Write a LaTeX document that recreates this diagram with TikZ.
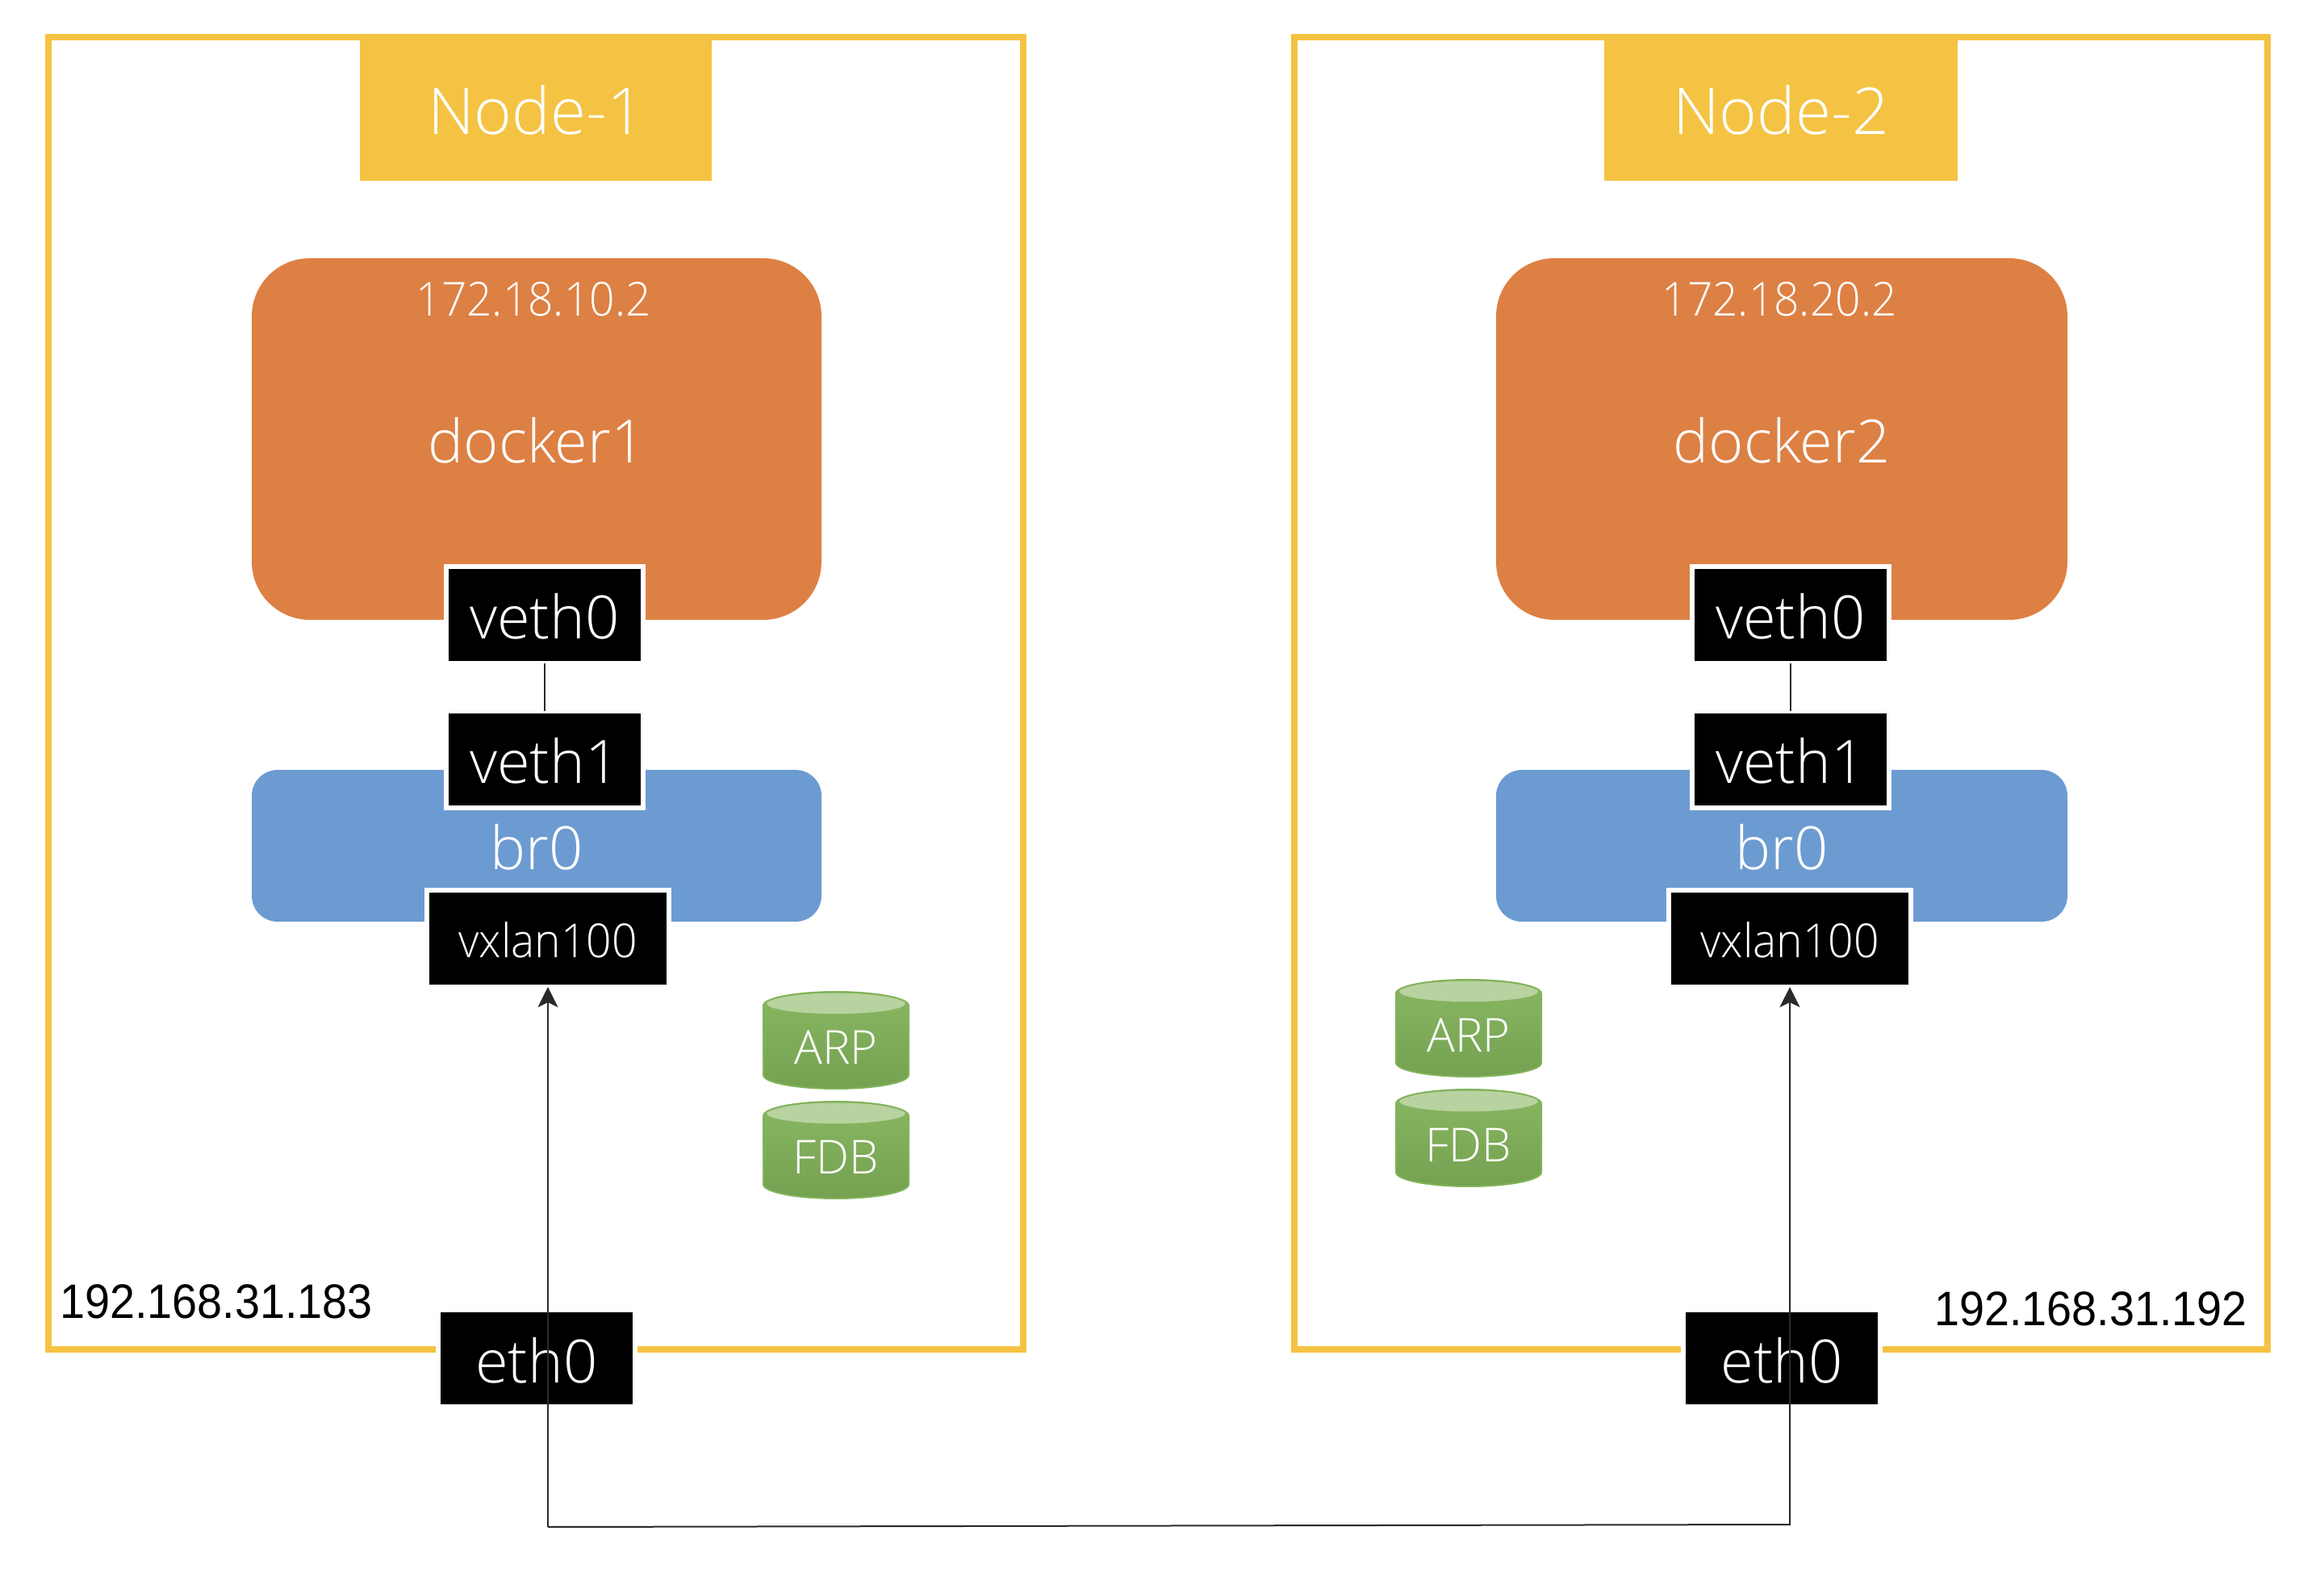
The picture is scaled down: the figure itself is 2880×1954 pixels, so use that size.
\documentclass[tikz,border=0pt]{standalone}
\usepackage{fontspec}
\setmainfont{Open Sans}[UprightFont=* Light]
\newfontfamily\narrowfont{Open Sans}[UprightFont=* Light,FakeStretch=.95]
\newfontfamily\hostfont{Liberation Sans}[FakeStretch=.93]
\usetikzlibrary{positioning,arrows.meta,shapes.geometric}
\definecolor{nodeyellow}{HTML}{F5C343}
\definecolor{dockerorange}{HTML}{DD8044}
\definecolor{bridgeblue}{HTML}{6C9BD2}
\definecolor{cylgreen}{HTML}{82B35A}
\definecolor{cyltop}{HTML}{B8D2A0}
\definecolor{wiregray}{HTML}{2A2A2A}
\tikzset{
  hostframe/.style={
    rectangle,
    draw=nodeyellow,
    line width=2pt,
    outer sep=0pt
  },
  hosttitle/.style={
    rectangle,
    fill=nodeyellow,
    text=white,
    font=\fontsize{20}{20}\selectfont,
    text height=16pt,
    text depth=0pt,
    minimum height=44.5pt
  },
  dockerbox/.style={
    rectangle,
    rounded corners=18pt,
    fill=dockerorange,
    text=white,
    font=\fontsize{18.5}{20}\selectfont,
    text height=15pt,
    text depth=0pt,
    minimum height=112pt
  },
  bridgebox/.style={
    rectangle,
    rounded corners=8pt,
    fill=bridgeblue,
    text=white,
    font=\fontsize{18.5}{20}\selectfont,
    text height=15pt,
    text depth=0pt,
    minimum height=47pt
  },
  port/.style={
    rectangle,
    fill=black,
    draw=white,
    line width=1.5pt,
    outer sep=0pt,
    text=white,
    font=\fontsize{18.5}{20}\selectfont,
    text height=15pt,
    text depth=0pt,
    minimum width=61pt,
    minimum height=30pt
  },
  smallport/.style={
    port,
    font=\narrowfont\fontsize{14.5}{16}\selectfont,
    text height=12pt,
    minimum width=75pt
  },
  iptext/.style={
    anchor=base,
    inner sep=0pt,
    text=white,
    font=\narrowfont\fontsize{14.5}{16}\selectfont
  },
  hostip/.style={
    anchor=base,
    inner sep=0pt,
    font=\hostfont\fontsize{15}{16}\selectfont
  },
  tablecyl/.style={
    cylinder,
    shape border rotate=90,
    shape aspect=.33,
    draw=cylgreen,
    line width=.5pt,
    top color=cylgreen!95!white,
    bottom color=cylgreen!90!black,
    text=white,
    inner sep=0pt,
    outer sep=0pt,
    font=\fontsize{14.5}{16}\selectfont,
    minimum width=45pt,
    minimum height=30pt,
    path picture={
      \fill[cyltop] ([yshift=-3.6pt]path picture bounding box.north) ellipse (21.5pt and 3.2pt);
    }
  },
  wire/.style={
    draw=wiregray,
    line width=.5pt
  }
}
\begin{document}
\begin{tikzpicture}[x=.25pt,y=-.25pt,>={Stealth[length=6.25pt,width=6.25pt,inset=1.5pt]}]

\useasboundingbox (0,0) rectangle (2880,1954);

\node[hostframe,minimum width=302pt,minimum height=406.5pt] (frame1) at (664,859) {};
\node[hostframe,minimum width=301.5pt,minimum height=406.5pt] (frame2) at (2207,859) {};

\node[hosttitle,minimum width=109pt] (title1) at (664,135) {Node-1};
\node[hosttitle,minimum width=109.5pt] (title2) at (2207,135) {Node-2};

\node[dockerbox,minimum width=176.5pt] (docker1) at (665,544) {docker1};
\node[dockerbox,minimum width=177pt] (docker2) at (2208,544) {docker2};

\node[iptext] (ip1) at (661,392) {172.18.10.2};
\node[iptext] (ip2) at (2205,392) {172.18.20.2};

\node[bridgebox,minimum width=176.5pt] (br1) at (665,1048) {br0};
\node[bridgebox,minimum width=177pt] (br2) at (2208,1048) {br0};

\node[port] (vethz1) at (675,762) {veth0};
\node[port] (vethz2) at (2219,762) {veth0};

\node[port] (vetho1) at (675,941) {veth1};
\node[port] (vetho2) at (2219,941) {veth1};

\node[smallport] (vxlan1) at (679,1163) {vxlan100};
\node[smallport] (vxlan2) at (2218,1163) {vxlan100};

\node[tablecyl] (arp1) at (1036,1298) {ARP};
\node[tablecyl,below=4pt of arp1] (fdb1) {FDB};

\node[tablecyl] (arp2) at (1820,1283) {ARP};
\node[tablecyl,below=4pt of arp2] (fdb2) {FDB};

\node[port] (eth1) at (665,1683) {eth0};
\node[port] (eth2) at (2208,1683) {eth0};

\node[hostip] (host1) at (268,1633) {192.168.31.183};
\node[hostip] (host2) at (2591,1642) {192.168.31.192};

\coordinate (turn1) at (679,1892);
\coordinate (turn2) at (2218,1889);

\draw[wire] (vethz1.south) -- (vetho1.north);
\draw[wire] (vethz2.south) -- (vetho2.north);

\draw[wire,->] (turn1) -- (vxlan1.south);
\draw[wire,->] (turn1) -- (turn2) -- (vxlan2.south);

\end{tikzpicture}
\end{document}
